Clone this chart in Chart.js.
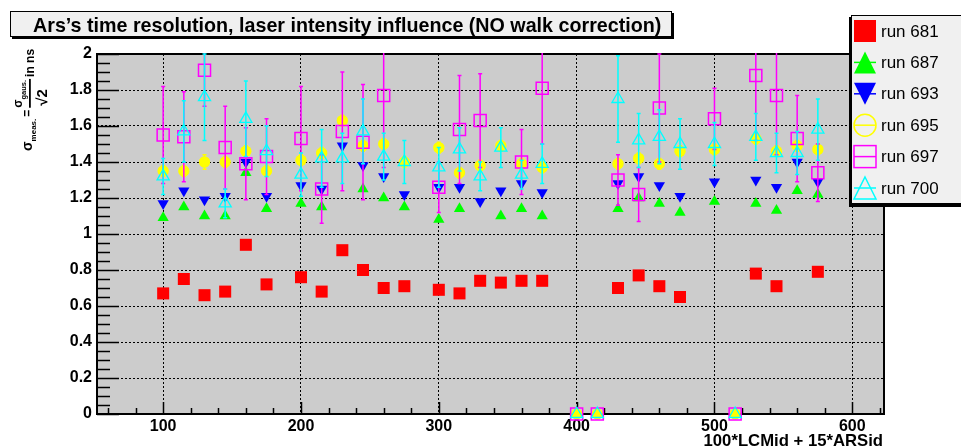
<!DOCTYPE html>
<html lang="en">
<head>
<meta charset="UTF-8">
<title>Ars time resolution</title>
<script src="https://cdn.jsdelivr.net/npm/chart.js@4.4.1/dist/chart.umd.min.js"></script>
<style>
  body {margin: 0; background: #fff;}
  canvas {display: block;}
</style>
</head>
<body>
<canvas id="resChart" width="961" height="448"></canvas>
<script>
// channel position = 100*LCMid + 15*ARSid
const channels = [100, 115, 130, 145, 160, 175, 200, 215, 230, 245, 260, 275, 300, 315, 330, 345, 360, 375,
                  400, 415, 430, 445, 460, 475, 500, 515, 530, 545, 560, 575];

// sigma per run (ns), null = no measurement
const run681 = [0.67, 0.75, 0.66, 0.68, 0.94, 0.72, 0.76, 0.68, 0.91, 0.80, 0.70, 0.71, 0.69, 0.67, 0.74, 0.73, 0.74, 0.74,
                null, null, 0.70, 0.77, 0.71, 0.65, null, null, 0.78, 0.71, null, 0.79];
const run687 = [1.09, 1.15, 1.10, 1.10, 1.34, 1.14, 1.17, 1.15, null, 1.25, 1.20, 1.15, 1.08, 1.14, null, 1.10, 1.14, 1.10,
                null, null, 1.14, 1.20, 1.17, 1.12, 1.18, null, 1.17, 1.13, 1.24, 1.22];
const run693 = [1.17, 1.24, 1.19, 1.21, 1.40, 1.21, 1.27, 1.25, 1.49, 1.38, 1.32, 1.22, 1.26, 1.26, 1.18, 1.24, 1.28, 1.23,
                null, null, 1.28, 1.32, 1.27, 1.21, 1.29, null, 1.30, 1.26, 1.40, 1.29];
const run695 = [1.35, 1.35, 1.40, 1.40, 1.46, 1.35, 1.41, 1.45, 1.63, 1.49, 1.50, 1.40, 1.48, 1.34, 1.38, 1.49, 1.39, 1.37,
                0, 0, 1.39, 1.42, 1.39, 1.46, 1.47, 0, 1.53, 1.46, 1.49, 1.47];
const run697 = [1.55, 1.54, 1.91, 1.48, 1.39, 1.43, 1.53, 1.25, 1.57, 1.51, 1.77, null, 1.26, 1.58, 1.63, null, 1.40, 1.81,
                0, 0, 1.30, 1.22, 1.70, null, 1.64, 0, 1.88, 1.77, 1.53, 1.34];
const run700 = [1.32, 1.57, 1.76, 1.17, 1.64, 1.46, 1.33, 1.42, 1.42, 1.57, 1.43, 1.40, 1.37, 1.47, 1.32, 1.48, 1.33, 1.39,
                0, 0, 1.75, 1.52, 1.54, 1.50, 1.50, 0, 1.54, 1.45, 1.45, 1.58];

// errors on the sigma
const err695 = [0.03, 0.03, 0.04, 0.03, 0.03, 0.03, 0.03, 0.03, 0.03, 0.03, 0.03, 0.03, 0.03, 0.03, 0.03, 0.03, 0.03, 0.03,
                0, 0, 0.03, 0.03, 0.03, 0.03, 0.03, 0, 0.03, 0.03, 0.03, 0.03];
const err697 = [0.27, 0.25, 0.20, 0.23, 0.20, 0.21, 0.29, 0.19, 0.33, 0.32, 0.40, null, 0.14, 0.30, 0.26, null, 0.18, 0.31,
                0, 0, 0.14, 0.15, 0.30, null, 0.17, 0, 0.36, 0.33, 0.24, 0.16];
const err700 = [0.10, 0.17, 0.24, 0.08, 0.21, 0.14, 0.12, 0.16, 0.14, 0.18, 0.13, 0.12, 0.11, 0.12, 0.08, 0.11, 0.08, 0.11,
                0, 0, 0.24, 0.15, 0.15, 0.14, 0.12, 0, 0.13, 0.11, 0.12, 0.17];

const runLabels = ['run 681', 'run 687', 'run 693', 'run 695', 'run 697', 'run 700'];

const FONT = '"Liberation Sans", Arial, Helvetica, sans-serif';

function pts(vals) {
  return channels.map((x, i) => ({x: x, y: vals[i]}));
}

const datasets = [
  {label: runLabels[0], data: pts(run681), pointStyle: 'rect', pointRadius: 8.5,
   backgroundColor: '#ff0000', borderColor: '#ff0000', borderWidth: 0, order: 6},
  {label: runLabels[1], data: pts(run687), pointStyle: 'triangle', pointRadius: 6.5,
   backgroundColor: '#00ff00', borderColor: '#00ff00', borderWidth: 0, order: 5},
  {label: runLabels[2], data: pts(run693), pointStyle: 'triangle', pointRotation: 180, pointRadius: 6.5,
   backgroundColor: '#0000ff', borderColor: '#0000ff', borderWidth: 0, order: 4},
  {label: runLabels[3], data: pts(run695), errors: err695, pointStyle: 'circle', pointRadius: 5.7,
   backgroundColor: '#ffff00', borderColor: '#ffff00', borderWidth: 0, order: 3},
  {label: runLabels[4], data: pts(run697), errors: err697, pointStyle: 'rect', pointRadius: 8.5,
   backgroundColor: 'rgba(0,0,0,0)', borderColor: '#ff00ff', borderWidth: 1.5, order: 2},
  {label: runLabels[5], data: pts(run700), errors: err700, pointStyle: 'triangle', pointRadius: 7,
   backgroundColor: 'rgba(0,0,0,0)', borderColor: '#00ffff', borderWidth: 1.3, order: 1}
];
datasets.forEach(d => { d.showLine = false; d.clip = false; d.pointHoverRadius = d.pointRadius; });

// vertical error bars, drawn just before each run's markers
const errorBars = {
  id: 'errorBars',
  beforeDatasetDraw(chart, args) {
    const ds = chart.data.datasets[args.index];
    if (!ds.errors) return;
    const ctx = chart.ctx, ys = chart.scales.y, a = chart.chartArea;
    ctx.save();
    ctx.beginPath();
    ctx.rect(a.left, a.top - 1, a.right - a.left, a.bottom - a.top + 2);
    ctx.clip();
    ctx.strokeStyle = ds.borderColor;
    ctx.lineWidth = 1.5;
    args.meta.data.forEach((p, i) => {
      const v = ds.data[i].y, e = ds.errors[i];
      if (v == null || !e) return;
      const top = ys.getPixelForValue(v + e), bot = ys.getPixelForValue(v - e);
      ctx.beginPath();
      ctx.moveTo(p.x, top); ctx.lineTo(p.x, bot);
      ctx.moveTo(p.x - 2, top); ctx.lineTo(p.x + 2, top);
      ctx.moveTo(p.x - 2, bot); ctx.lineTo(p.x + 2, bot);
      ctx.stroke();
    });
    ctx.restore();
  }
};

// grey pad, inner ticks and frame
const frame = {
  id: 'frame',
  beforeDraw(chart) {
    const ctx = chart.ctx, a = chart.chartArea;
    ctx.save();
    ctx.fillStyle = '#fff';
    ctx.fillRect(0, 0, chart.width, chart.height);
    ctx.fillStyle = '#cccccc';
    ctx.fillRect(a.left, a.top, a.right - a.left, a.bottom - a.top);
    ctx.restore();
  },
  beforeDatasetsDraw(chart) {
    const ctx = chart.ctx, a = chart.chartArea, xs = chart.scales.x, ys = chart.scales.y;
    ctx.save();
    ctx.strokeStyle = '#000';
    ctx.lineWidth = 1.5;
    ctx.beginPath();
    for (let k = 0; k <= 40; k++) {
      const py = Math.round(ys.getPixelForValue(k * 0.05)) + 0.5;
      const len = k % 4 === 0 ? 22 : 13;
      ctx.moveTo(a.left, py); ctx.lineTo(a.left + len, py);
    }
    for (let v = 60; v <= 620; v += 20) {
      const px = Math.round(xs.getPixelForValue(v)) + 0.5;
      const len = v % 100 === 0 ? 12 : 6;
      ctx.moveTo(px, a.bottom); ctx.lineTo(px, a.bottom - len);
    }
    ctx.stroke();
    ctx.lineWidth = 2;
    ctx.strokeRect(a.left, a.top, a.right - a.left, a.bottom - a.top);
    ctx.restore();
  }
};

function drawYTitle(ctx) {
  const F = s => 'bold ' + s + 'px ' + FONT;
  ctx.save();
  ctx.translate(0, 151);
  ctx.rotate(-Math.PI / 2);
  ctx.fillStyle = '#000';
  ctx.textAlign = 'left';
  ctx.textBaseline = 'alphabetic';
  let u = 0;
  ctx.font = F(14);
  ctx.fillText('σ', u, 32);
  u += ctx.measureText('σ').width;
  ctx.font = F(8);
  ctx.fillText('meas.', u, 36);
  u += ctx.measureText('meas.').width + 2;
  ctx.font = F(12);
  ctx.fillText('=', u, 31);
  u += ctx.measureText('=').width + 2;
  const fx = u;
  ctx.font = F(12);
  ctx.fillText('σ', fx, 22);
  let nu = fx + ctx.measureText('σ').width;
  ctx.font = F(7.5);
  ctx.fillText('gaus.', nu, 26);
  nu += ctx.measureText('gaus.').width;
  ctx.fillRect(fx, 29, nu - fx + 1, 1.8);
  ctx.font = F(15);
  ctx.fillText('√2', fx + 2, 47);
  u = nu + 3;
  ctx.font = F(12);
  ctx.fillText('in ns', u, 34);
  ctx.restore();
}

function drawLegendMarker(ctx, i, x, y, ds) {
  const r = 11;
  ctx.save();
  ctx.strokeStyle = ds.borderColor;
  ctx.fillStyle = ds.backgroundColor;
  ctx.lineWidth = 1.5;
  ctx.beginPath();
  if (i === 0) {
    ctx.fillRect(x - r, y - r, 2 * r, 2 * r);
  } else if (i === 1 || i === 2) {
    const s = i === 1 ? 1 : -1;
    ctx.moveTo(x, y - s * r); ctx.lineTo(x + r, y + s * r); ctx.lineTo(x - r, y + s * r);
    ctx.closePath();
    ctx.fill();
  } else if (i === 3) {
    ctx.arc(x, y, r, 0, Math.PI * 2);
    ctx.stroke();
  } else if (i === 4) {
    ctx.strokeRect(x - r, y - r, 2 * r, 2 * r);
  } else {
    ctx.moveTo(x, y - r); ctx.lineTo(x + r, y + r); ctx.lineTo(x - r, y + r);
    ctx.closePath();
    ctx.stroke();
  }
  if (i > 0) {
    ctx.beginPath();
    ctx.moveTo(x - r, y); ctx.lineTo(x + r, y);
    ctx.stroke();
  }
  ctx.restore();
}

// title box, legend box and axis titles
const annotations = {
  id: 'annotations',
  afterDraw(chart) {
    const ctx = chart.ctx;
    ctx.save();
    // title box
    ctx.fillStyle = '#000';
    ctx.fillRect(12, 13, 662, 26);
    ctx.fillStyle = '#f0f0f0';
    ctx.fillRect(10, 11, 662, 26);
    ctx.strokeStyle = '#000';
    ctx.lineWidth = 1;
    ctx.strokeRect(10.5, 11.5, 661, 25);
    ctx.fillStyle = '#000';
    ctx.font = 'bold 19.7px ' + FONT;
    ctx.textBaseline = 'alphabetic';
    ctx.fillText('Ars\u2019s time resolution, laser intensity influence (NO walk correction)', 33, 32);

    // legend box
    ctx.fillStyle = '#000';
    ctx.fillRect(849, 17, 120, 190);
    ctx.fillStyle = '#f0f0f0';
    ctx.fillRect(851, 15, 120, 189);
    ctx.strokeRect(851.5, 15.5, 120, 188);
    ctx.font = '17px ' + FONT;
    ctx.textBaseline = 'middle';
    chart.data.datasets.forEach((ds, i) => {
      const y = 31 + i * 31.4;
      drawLegendMarker(ctx, i, 865, y, ds);
      ctx.fillStyle = '#000';
      ctx.fillText(ds.label, 881, y + 1);
    });

    // axis titles
    ctx.fillStyle = '#000';
    ctx.font = 'bold 16.7px ' + FONT;
    ctx.textAlign = 'right';
    ctx.textBaseline = 'alphabetic';
    ctx.fillText('100*LCMid + 15*ARSid', 883, 446);
    drawYTitle(ctx);
    ctx.restore();
  }
};

new Chart(document.getElementById('resChart'), {
  type: 'scatter',
  data: {datasets: datasets},
  plugins: [frame, errorBars, annotations],
  options: {
    responsive: false,
    animation: false,
    events: [],
    layout: {padding: {top: 54, right: 77, left: 0, bottom: 0}},
    plugins: {legend: {display: false}, tooltip: {enabled: false}},
    scales: {
      x: {
        type: 'linear', min: 52, max: 623,
        afterFit(scale) { scale.height = 34; },
        ticks: {stepSize: 100, includeBounds: false, padding: 3, color: '#000',
                font: {family: FONT, size: 16, weight: 'bold'}},
        grid: {color: '#000', lineWidth: 1, drawTicks: false},
        border: {display: false, dash: [2, 2]}
      },
      y: {
        min: 0, max: 2,
        afterFit(scale) { scale.width = 97; },
        ticks: {stepSize: 0.2, padding: 5, color: '#000',
                font: {family: FONT, size: 16, weight: 'bold'},
                callback: v => String(Math.round(v * 10) / 10)},
        grid: {color: '#000', lineWidth: 1, drawTicks: false},
        border: {display: false, dash: [2, 2]}
      }
    }
  }
});
</script>
</body>
</html>
